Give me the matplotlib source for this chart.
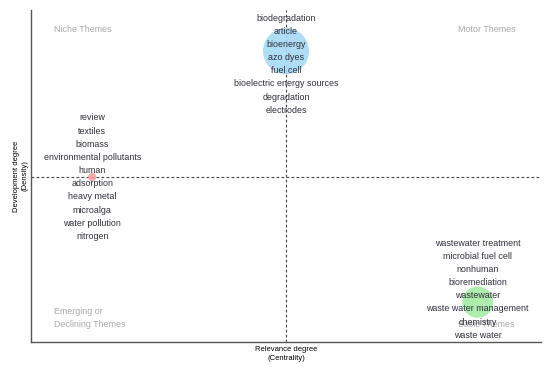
import matplotlib.pyplot as plt

plt.rcParams['font.family'] = ['Liberation Sans', 'DejaVu Sans']

# cluster positions (centrality, density rescaled 0-1) and bubble sizes
cl_x = [0.50, 0.12, 0.876]
cl_y = [0.876, 0.497, 0.12]
cl_size = [1100, 35, 500]
cl_color = ['#a6daf5', '#f4a0a0', '#a3eaa3']

cl_labels = [
    ["biodegradation", "article", "bioenergy", "azo dyes", "fuel cell",
     "bioelectric energy sources", "degradation", "electrodes"],
    ["review", "textiles", "biomass", "environmental pollutants", "human",
     "adsorption", "heavy metal", "microalga", "water pollution", "nitrogen"],
    ["wastewater treatment", "microbial fuel cell", "nonhuman", "bioremediation",
     "wastewater", "waste water management", "chemistry", "waste water"],
]
# how far above the bubble the label list starts (points)
label_start = [23.8, 42.5, 42.5]

mean_x = 0.50
mean_y = 0.497

fig = plt.figure(figsize=(5.5, 3.67), dpi=100)
ax = fig.add_axes([31/550, 25/367, 510/550, 332/367])
ax.set_xlim(0, 1)
ax.set_ylim(0, 1)

ax.axvline(mean_x, color='#444444', lw=0.8, ls=(0, (2.5, 2)), zorder=1)
ax.axhline(mean_y, color='#444444', lw=0.8, ls=(0, (2.5, 2)), zorder=1)

ax.scatter(cl_x, cl_y, s=cl_size, c=cl_color, alpha=0.9, edgecolors='none', zorder=2)

for x, y, labs, off in zip(cl_x, cl_y, cl_labels, label_start):
    for i, lab in enumerate(labs):
        ax.annotate(lab, (x, y), xytext=(0, off - i*9.47), textcoords='offset points',
                    ha='center', va='center', fontsize=6.4, color='#2f2f3a', zorder=3)

qcol = '#a8a8a8'
ax.text(0.045, 0.94, "Niche Themes", fontsize=6.4, color=qcol, va='center')
ax.text(0.837, 0.94, "Motor Themes", fontsize=6.4, color=qcol, va='center')
ax.text(0.045, 0.093, "Emerging or", fontsize=6.4, color=qcol, va='center')
ax.text(0.045, 0.054, "Declining Themes", fontsize=6.4, color=qcol, va='center')
ax.text(0.837, 0.054, "Basic Themes", fontsize=6.4, color=qcol, va='center', zorder=2)

ax.set_xticks([])
ax.set_yticks([])
for s in ['top', 'right']:
    ax.spines[s].set_visible(False)
for s in ['left', 'bottom']:
    ax.spines[s].set_color('#555555')
    ax.spines[s].set_linewidth(1.0)

ax.set_xlabel("Relevance degree\n(Centrality)", fontsize=5.5, labelpad=3, linespacing=1.3)
ax.set_ylabel("Development degree\n(Density)", fontsize=5.5, labelpad=2, linespacing=1.3)

fig.savefig("out.png", dpi=100)
